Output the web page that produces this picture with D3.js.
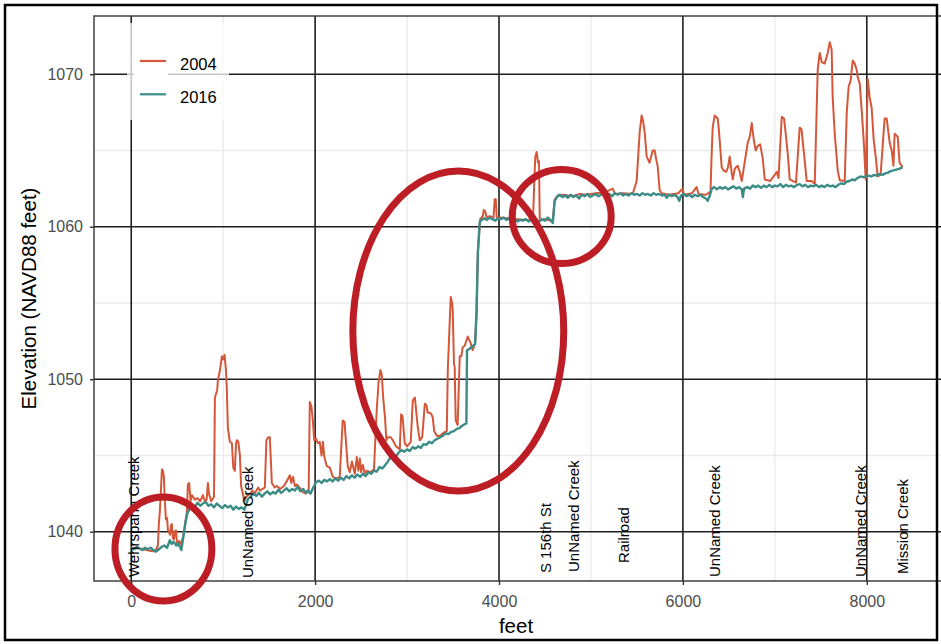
<!DOCTYPE html>
<html>
<head>
<meta charset="utf-8">
<script src="https://cdn.jsdelivr.net/npm/d3@7"></script>
<style>
  body { margin: 0; background: #fff; }
  svg { display: block; }
  text { font-family: "Liberation Sans", Arial, Helvetica, sans-serif; }
</style>
</head>
<body>
<svg id="chart" width="941" height="644"></svg>
<script>
// Channel profile surveys: [distance along channel (feet), elevation (NAVD88 feet)]
const profile2004 = [
  [0,1038.95],[100,1038.9],[200,1038.75],[260,1038.7],[290,1039.1],[300,1040.5],[312,1041.4],
  [325,1043.0],[334,1044.1],[345,1044.0],[355,1043.6],[366,1042.0],[377,1040.8],[390,1040.9],
  [399,1040.1],[410,1040.0],[421,1039.8],[432,1040.4],[442,1040.5],[452,1039.6],[464,1039.5],
  [475,1040.0],[486,1040.1],[497,1039.3],[508,1039.1],[520,1039.4],[540,1039.2],[565,1039.7],
  [590,1040.7],[605,1041.3],[616,1043.1],[630,1043.2],[645,1042.0],[660,1042.4],[692,1042.1],
  [720,1042.2],[750,1042.0],[779,1042.4],[800,1042.0],[820,1042.1],[834,1043.2],[845,1042.5],
  [870,1042.0],[900,1042.3],[910,1048.8],[935,1049.3],[942,1049.9],[965,1050.6],[986,1051.5],
  [1000,1051.3],[1015,1051.6],[1030,1050.6],[1040,1049.3],[1051,1046.8],[1073,1045.9],[1095,1045.8],
  [1110,1044.2],[1127,1044.0],[1140,1045.8],[1150,1046.0],[1165,1045.9],[1182,1045.0],[1195,1043.0],
  [1210,1042.6],[1230,1042.0],[1250,1042.3],[1290,1042.5],[1320,1042.7],[1344,1042.5],[1380,1042.9],
  [1400,1042.7],[1453,1042.9],[1470,1046.0],[1490,1046.2],[1507,1046.2],[1520,1044.5],[1529,1043.2],
  [1560,1042.9],[1584,1043.0],[1620,1042.8],[1660,1043.0],[1690,1043.3],[1725,1043.7],[1740,1043.2],
  [1760,1043.6],[1780,1043.0],[1801,1043.1],[1830,1042.9],[1866,1042.6],[1900,1042.5],[1930,1042.7],
  [1942,1048.5],[1960,1048.2],[1975,1047.3],[1990,1046.0],[2010,1046.1],[2030,1045.8],[2050,1045.9],
  [2070,1045.0],[2085,1045.9],[2100,1044.9],[2127,1044.3],[2160,1044.2],[2192,1043.6],[2230,1043.5],
  [2268,1043.6],[2300,1047.3],[2320,1047.2],[2340,1045.5],[2355,1044.3],[2377,1043.9],[2400,1044.6],
  [2431,1043.8],[2453,1044.9],[2470,1044.0],[2486,1044.8],[2500,1043.9],[2518,1044.4],[2540,1043.8],
  [2562,1044.0],[2600,1043.9],[2640,1044.1],[2670,1048.0],[2690,1049.8],[2710,1050.6],[2725,1050.3],
  [2740,1048.8],[2760,1047.5],[2775,1046.0],[2790,1046.2],[2820,1046.2],[2845,1046.0],[2880,1045.6],
  [2921,1045.4],[2935,1047.7],[2950,1047.6],[2975,1045.8],[3000,1045.6],[3040,1045.9],[3062,1048.6],
  [3085,1048.8],[3106,1047.5],[3116,1046.9],[3138,1046.0],[3165,1046.2],[3193,1048.4],[3210,1048.3],
  [3225,1047.8],[3247,1047.8],[3265,1047.7],[3279,1047.5],[3295,1046.6],[3323,1046.3],[3360,1046.3],
  [3400,1046.5],[3432,1046.6],[3443,1050.6],[3464,1053.8],[3475,1055.4],[3490,1055.0],[3497,1054.5],
  [3510,1051.0],[3518,1050.8],[3529,1047.3],[3550,1047.0],[3573,1051.5],[3590,1051.5],[3605,1052.1],
  [3627,1052.2],[3660,1052.8],[3690,1052.4],[3714,1051.9],[3740,1052.4],[3755,1054.3],[3770,1058.3],
  [3795,1060.5],[3823,1060.7],[3835,1061.1],[3850,1061.0],[3866,1060.6],[3900,1060.7],[3940,1060.6],
  [3953,1061.8],[3965,1061.8],[3975,1060.6],[4010,1060.6],[4100,1060.55],[4200,1060.5],[4300,1060.45],
  [4370,1060.5],[4385,1063.2],[4395,1064.6],[4410,1064.9],[4425,1064.2],[4435,1064.3],[4443,1060.4],
  [4500,1060.5],[4584,1060.35],[4606,1061.8],[4640,1062.05],[4700,1062.1],[4800,1062.0],[4878,1062.15],
  [4950,1062.1],[5050,1062.2],[5150,1062.25],[5237,1062.5],[5260,1062.15],[5350,1062.2],[5454,1062.15],
  [5497,1063.0],[5530,1066.2],[5551,1067.3],[5565,1067.0],[5584,1066.2],[5606,1064.6],[5638,1064.2],
  [5671,1065.0],[5693,1065.0],[5710,1064.4],[5725,1064.0],[5747,1062.4],[5769,1062.2],[5850,1062.1],
  [5950,1062.2],[5997,1062.5],[6010,1062.1],[6100,1062.2],[6149,1062.6],[6170,1062.15],[6250,1062.1],
  [6300,1062.3],[6313,1064.8],[6324,1066.5],[6346,1067.3],[6378,1067.1],[6389,1066.5],[6400,1065.7],
  [6422,1063.9],[6440,1063.7],[6470,1063.6],[6490,1063.9],[6509,1064.6],[6525,1063.8],[6542,1063.1],
  [6564,1063.8],[6596,1064.0],[6618,1063.6],[6640,1063.0],[6705,1065.5],[6727,1065.9],[6749,1066.8],
  [6771,1065.7],[6792,1065.0],[6814,1065.3],[6840,1065.4],[6868,1064.5],[6890,1063.1],[6950,1063.0],
  [7021,1063.6],[7040,1063.2],[7075,1067.2],[7100,1067.1],[7120,1066.0],[7140,1064.8],[7162,1063.1],
  [7230,1062.9],[7270,1066.5],[7290,1066.4],[7310,1065.2],[7347,1063.0],[7400,1063.0],[7434,1062.8],
  [7466,1070.3],[7488,1071.4],[7510,1070.8],[7542,1070.7],[7575,1071.4],[7597,1072.1],[7618,1071.6],
  [7629,1068.5],[7651,1066.1],[7684,1063.7],[7705,1063.05],[7760,1063.0],[7782,1067.5],[7803,1069.2],
  [7825,1069.6],[7847,1070.9],[7869,1070.7],[7890,1070.3],[7901,1069.8],[7923,1069.4],[7945,1067.6],
  [7966,1065.7],[7988,1063.1],[8010,1069.7],[8031,1068.5],[8053,1067.8],[8075,1065.7],[8097,1064.6],
  [8118,1063.3],[8150,1063.4],[8194,1067.1],[8216,1067.1],[8249,1065.5],[8271,1065.0],[8290,1064.0],
  [8303,1066.1],[8336,1065.9],[8357,1064.2],[8390,1063.9]
];

const profile2016 = [
  [0,1038.95],[30,1038.85],[60,1039.0],[90,1038.9],[120,1038.8],[150,1038.95],[180,1038.85],
  [210,1038.95],[240,1038.8],[270,1038.7],[300,1038.85],[330,1039.0],[360,1039.1],[390,1038.95],
  [420,1039.45],[440,1039.2],[460,1039.35],[490,1039.1],[510,1039.25],[530,1039.0],[545,1038.8],
  [565,1039.6],[590,1040.6],[610,1041.2],[630,1041.45],
  [660,1041.75],[690,1041.6],[720,1041.9],[750,1041.7],[780,1041.85],[810,1041.95],[840,1041.7],
  [870,1041.8],[900,1041.6],[930,1041.85],[960,1041.7],[990,1041.55],[1020,1041.75],[1050,1041.6],
  [1080,1041.7],[1110,1041.45],[1140,1041.65],[1170,1041.5],[1200,1041.6],[1230,1041.45],[1250,1041.8],
  [1270,1042.15],
  [1300,1042.3],[1330,1042.5],[1360,1042.35],[1390,1042.55],[1420,1042.3],[1450,1042.5],[1480,1042.65],
  [1510,1042.45],[1540,1042.6],[1570,1042.5],[1600,1042.75],[1630,1042.55],[1660,1042.7],[1690,1042.85],
  [1720,1042.65],[1750,1042.8],[1780,1042.7],[1810,1042.95],[1840,1042.65],[1870,1042.8],[1900,1042.55],
  [1920,1042.7],[1950,1042.5],[1980,1042.9],[2010,1043.25],
  [2040,1043.35],[2070,1043.2],[2100,1043.4],[2130,1043.3],[2160,1043.45],[2190,1043.3],[2220,1043.5],
  [2250,1043.35],[2280,1043.55],[2310,1043.4],[2340,1043.65],[2370,1043.5],[2400,1043.7],[2430,1043.55],
  [2460,1043.75],[2490,1043.6],[2520,1043.8],[2550,1043.65],[2580,1043.9],[2610,1043.8],[2640,1044.0],
  [2670,1043.95],[2700,1044.25],[2730,1044.15],[2760,1044.35],[2790,1044.6],[2820,1044.9],[2850,1045.0],
  [2880,1044.95],[2910,1045.2],[2940,1045.35],[2970,1045.25],[3000,1045.4],[3030,1045.3],[3060,1045.55],
  [3090,1045.45],[3120,1045.6],[3150,1045.5],[3180,1045.75],[3210,1045.7],[3240,1045.9],[3270,1045.8],
  [3300,1046.0],[3330,1046.1],[3360,1046.2],[3390,1046.3],[3420,1046.45],[3450,1046.4],[3480,1046.55],
  [3510,1046.6],[3540,1046.75],[3570,1046.8],[3600,1046.95],[3625,1047.05],[3645,1047.1],[3652,1051.9],
  [3680,1052.0],[3710,1052.15],[3740,1052.3],[3755,1054.3],[3770,1058.3],[3790,1060.3],
  [3810,1060.45],[3840,1060.55],[3870,1060.45],[3900,1060.6],[3930,1060.5],[3960,1060.4],[3990,1060.55],
  [4020,1060.5],[4050,1060.6],[4080,1060.45],[4110,1060.55],[4140,1060.4],[4170,1060.5],[4200,1060.35],
  [4230,1060.45],[4260,1060.4],[4290,1060.5],[4320,1060.35],[4350,1060.45],[4380,1060.3],[4410,1060.4],
  [4440,1060.35],[4470,1060.5],[4500,1060.4],[4530,1060.6],[4560,1060.45],[4585,1060.25],[4605,1061.7],
  [4630,1061.95],
  [4660,1062.1],[4690,1061.95],[4720,1062.05],[4750,1061.9],[4780,1062.1],[4810,1061.95],[4840,1062.05],
  [4870,1061.85],[4900,1062.1],[4930,1062.0],[4960,1062.15],[4990,1061.95],[5020,1062.05],[5050,1062.15],
  [5080,1062.0],[5110,1062.1],[5140,1062.2],[5170,1062.05],[5200,1062.15],[5230,1062.0],[5260,1062.2],
  [5290,1062.1],[5320,1062.2],[5350,1062.05],[5380,1062.15],[5410,1062.05],[5440,1062.2],[5470,1062.1],
  [5500,1062.15],[5530,1062.05],[5560,1062.2],[5590,1062.1],[5620,1062.15],[5650,1062.05],[5680,1062.2],
  [5710,1062.1],[5740,1062.15],[5770,1062.05],[5800,1062.1],[5825,1061.9],[5850,1062.1],[5880,1062.0],
  [5910,1062.1],[5940,1061.95],[5960,1061.7],[5980,1062.05],[6010,1062.15],[6040,1062.0],[6070,1062.1],
  [6100,1061.95],[6130,1062.1],[6160,1062.0],[6190,1062.1],[6220,1061.95],[6250,1061.85],[6270,1061.7],
  [6290,1062.0],[6315,1062.5],
  [6340,1062.6],[6370,1062.45],[6400,1062.6],[6430,1062.5],[6460,1062.6],[6490,1062.45],[6520,1062.55],
  [6550,1062.65],[6580,1062.5],[6610,1062.6],[6640,1062.45],[6652,1061.95],[6665,1062.5],[6700,1062.6],
  [6730,1062.5],[6760,1062.7],[6790,1062.6],[6820,1062.7],[6850,1062.55],[6880,1062.7],[6910,1062.6],
  [6940,1062.75],[6970,1062.6],[7000,1062.7],[7030,1062.65],[7060,1062.8],[7090,1062.6],[7120,1062.75],
  [7150,1062.65],[7180,1062.7],[7210,1062.6],[7240,1062.75],[7270,1062.8],[7300,1062.65],[7330,1062.75],
  [7360,1062.6],[7390,1062.7],[7420,1062.65],[7450,1062.75],[7480,1062.6],[7510,1062.7],[7540,1062.6],
  [7570,1062.75],[7600,1062.65],[7630,1062.7],[7660,1062.6],[7690,1062.75],
  [7720,1062.85],[7750,1062.8],[7780,1062.95],[7810,1063.0],[7840,1063.1],[7870,1063.05],[7900,1063.2],
  [7930,1063.3],[7960,1063.25],[7990,1063.3],[8020,1063.35],[8050,1063.3],[8080,1063.4],[8110,1063.35],
  [8140,1063.45],[8170,1063.4],[8200,1063.5],[8230,1063.55],[8260,1063.65],[8290,1063.7],[8320,1063.75],
  [8350,1063.8],[8390,1063.9]
];

const seriesNames = ["2004", "2016"];
const seriesColors = ["#d5573a", "#3b8c87"];
const seriesWidths = [2, 2.4];

// Road and stream crossings along the profile
const crossingNames = ["Wehrspann Creek", "UnNamed Creek", "S 156th St", "UnNamed Creek",
                       "Railroad", "UnNamed Creek", "UnNamed Creek", "Mission Creek"];
const crossingFeet = [25, 1268, 4507, 4810, 5355, 6345, 7930, 8388];
const crossingBaseElev = [1037.03, 1036.96, 1037.29, 1037.36, 1037.95, 1037.03, 1037.03, 1037.23];

const xTicks = [0, 2000, 4000, 6000, 8000];
const xMinor = [1000, 3000, 5000, 7000];
const yTicks = [1040, 1050, 1060, 1070];
const yMinor = [1045, 1055, 1065];

// Highlighted reaches: centre (feet, elevation) and radii in the same units
const highlightFeet = [350, 3557, 4682];
const highlightElev = [1038.87, 1053.16, 1060.67];
const highlightRadiusFeet = [527, 1147, 538];
const highlightRadiusElev = [3.41, 10.49, 3.08];

const svg = d3.select("#chart");
const panel = { left: 94, right: 942, top: 16, bottom: 581 };

const x = d3.scaleLinear().domain([-405, 8818]).range([panel.left, panel.right]);
const y = d3.scaleLinear().domain([1036.77, 1073.82]).range([panel.bottom, panel.top]);

svg.append("rect").attr("width", 941).attr("height", 644).attr("fill", "#fff");

svg.append("clipPath").attr("id", "panel-clip")
  .append("rect")
  .attr("x", panel.left).attr("y", panel.top)
  .attr("width", panel.right - panel.left).attr("height", panel.bottom - panel.top);

const grid = svg.append("g");
grid.selectAll(".vminor").data(xMinor).join("line")
  .attr("x1", d => x(d)).attr("x2", d => x(d))
  .attr("y1", panel.top).attr("y2", panel.bottom)
  .attr("stroke", "#ebebeb").attr("stroke-width", 1.4);
grid.selectAll(".hminor").data(yMinor).join("line")
  .attr("x1", panel.left).attr("x2", panel.right)
  .attr("y1", d => y(d)).attr("y2", d => y(d))
  .attr("stroke", "#ebebeb").attr("stroke-width", 1.4);
grid.selectAll(".vmajor").data(xTicks).join("line")
  .attr("x1", d => x(d)).attr("x2", d => x(d))
  .attr("y1", panel.top).attr("y2", panel.bottom)
  .attr("stroke", "#1e1e1e").attr("stroke-width", 1.6);
grid.selectAll(".hmajor").data(yTicks).join("line")
  .attr("x1", panel.left).attr("x2", panel.right)
  .attr("y1", d => y(d)).attr("y2", d => y(d))
  .attr("stroke", "#1e1e1e").attr("stroke-width", 1.6);

const line = d3.line().x(d => x(d[0])).y(d => y(d[1]));
const lines = svg.append("g").attr("clip-path", "url(#panel-clip)");
[profile2004, profile2016].forEach((series, i) => {
  lines.append("path")
    .datum(series)
    .attr("d", line)
    .attr("fill", "none")
    .attr("stroke", seriesColors[i])
    .attr("stroke-width", seriesWidths[i])
    .attr("stroke-linejoin", "round");
});

svg.append("rect")
  .attr("x", panel.left).attr("y", panel.top)
  .attr("width", panel.right - panel.left).attr("height", panel.bottom - panel.top)
  .attr("fill", "none").attr("stroke", "#333").attr("stroke-width", 1.4);

// Axes
const xAxis = svg.append("g")
  .attr("transform", `translate(0,${panel.bottom})`)
  .call(d3.axisBottom(x).tickValues(xTicks).tickSize(4).tickPadding(10.5).tickFormat(d3.format("d")));
const yAxis = svg.append("g")
  .attr("transform", `translate(${panel.left},0)`)
  .call(d3.axisLeft(y).tickValues(yTicks).tickSize(4).tickPadding(7).tickFormat(d3.format("d")));
[xAxis, yAxis].forEach(a => {
  a.select(".domain").remove();
  a.selectAll(".tick line").attr("stroke", "#333").attr("stroke-width", 1.4);
  a.selectAll(".tick text").attr("fill", "#4d4d4d").attr("font-size", 16)
    .style("font-family", "'Liberation Sans', Arial, sans-serif");
});

svg.append("text")
  .attr("x", (panel.left + panel.right) / 2 - 2).attr("y", 633)
  .attr("text-anchor", "middle").attr("font-size", 20.5).attr("fill", "#000")
  .text("feet");
svg.append("text")
  .attr("transform", `translate(36,${(panel.top + panel.bottom) / 2}) rotate(-90)`)
  .attr("text-anchor", "middle").attr("font-size", 20.5).attr("fill", "#000")
  .text("Elevation (NAVD88 feet)");

// Crossing labels
svg.append("g").selectAll("text").data(crossingNames).join("text")
  .attr("transform", (d, i) => `translate(${x(crossingFeet[i])},${y(crossingBaseElev[i])}) rotate(-90)`)
  .attr("dy", "0.35em")
  .attr("font-size", 15)
  .attr("fill", "#000")
  .text(d => d);

// Legend
const legend = svg.append("g");
legend.append("rect").attr("x", 127).attr("y", 23).attr("width", 102).attr("height", 97)
  .attr("fill", "#fff").attr("fill-opacity", 0.75);
legend.append("rect").attr("x", 134).attr("y", 42).attr("width", 34).attr("height", 72)
  .attr("fill", "#fff");
seriesNames.forEach((name, i) => {
  const cy = 61 + i * 33.3;
  legend.append("line")
    .attr("x1", 140).attr("x2", 166).attr("y1", cy).attr("y2", cy)
    .attr("stroke", seriesColors[i]).attr("stroke-width", 2.2);
  legend.append("text")
    .attr("x", 180).attr("y", cy + 9)
    .attr("font-size", 16.5).attr("fill", "#000")
    .text(name);
});

// Highlighted reaches
svg.append("g").selectAll("ellipse").data(highlightFeet).join("ellipse")
  .attr("cx", d => x(d))
  .attr("cy", (d, i) => y(highlightElev[i]))
  .attr("rx", (d, i) => x(d + highlightRadiusFeet[i]) - x(d))
  .attr("ry", (d, i) => y(highlightElev[i]) - y(highlightElev[i] + highlightRadiusElev[i]))
  .attr("fill", "none")
  .attr("stroke", "#bd1d24")
  .attr("stroke-width", 7);

// Outer frame
svg.append("rect").attr("x", 5).attr("y", 5).attr("width", 932).attr("height", 635)
  .attr("fill", "none").attr("stroke", "#000").attr("stroke-width", 2.5);
</script>
</body>
</html>
